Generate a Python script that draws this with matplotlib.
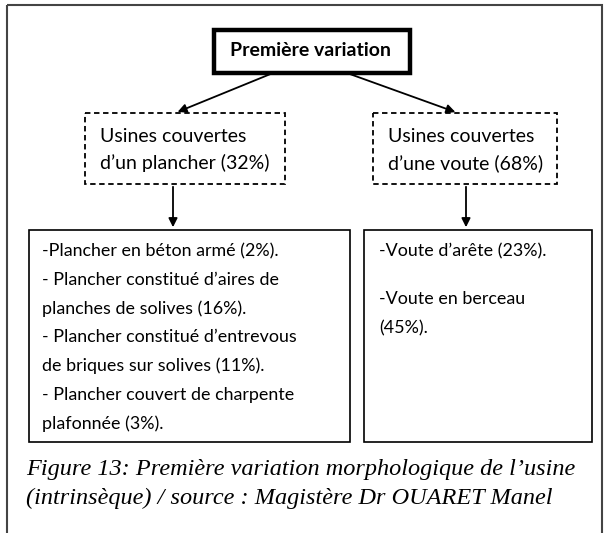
import matplotlib.pyplot as plt
from matplotlib.patches import Rectangle, FancyArrowPatch

titre = "Première variation"
branches = ["Usines couvertes\nd’un plancher (32%)", "Usines couvertes\nd’une voute (68%)"]
details_plancher = [
    "-Plancher en béton armé (2%).",
    "- Plancher constitué d’aires de",
    "planches de solives (16%).",
    "- Plancher constitué d’entrevous",
    "de briques sur solives (11%).",
    "- Plancher couvert de charpente",
    "plafonnée (3%).",
]
details_voute = ["-Voute d’arête (23%).", "-Voute en berceau", "(45%)."]
legende = ["Figure 13: Première variation morphologique de l’usine",
           "(intrinsèque) / source : Magistère Dr OUARET Manel"]

sans = "Lato"

fig = plt.figure(figsize=(6.05, 5.33), dpi=100)
ax = fig.add_axes([0, 0, 1, 1])
ax.set_xlim(0, 605)
ax.set_ylim(533, 0)
ax.axis("off")

# cadre extérieur
ax.add_patch(Rectangle((7, 5), 595, 540, fill=False, ec="#444444", lw=1.5))

# titre
ax.add_patch(Rectangle((214, 30), 196, 43, fill=False, ec="black", lw=3.2))
ax.text(311, 51, titre, ha="center", va="center", fontsize=14, fontweight="bold", family=sans)

# flèches vers les branches
arrow_kw = dict(arrowstyle="-|>", mutation_scale=13, color="black", lw=1.3)
ax.add_patch(FancyArrowPatch((273, 73), (175, 113), **arrow_kw))
ax.add_patch(FancyArrowPatch((347, 73), (458, 113), **arrow_kw))

# boîtes en pointillés
boites = [(85, 113, 200, 71), (373, 113, 184, 71)]
for (x, y, w, h), txt in zip(boites, branches):
    ax.add_patch(Rectangle((x, y), w, h, fill=False, ec="black", lw=1.3, ls=(0, (3, 2))))
    ax.text(x + 15, y + 37, txt, ha="left", va="center", fontsize=14, family=sans,
            linespacing=1.6)

# flèches verticales
ax.add_patch(FancyArrowPatch((173, 184), (173, 230), **arrow_kw))
ax.add_patch(FancyArrowPatch((466, 184), (466, 230), **arrow_kw))

# boîtes détails
ax.add_patch(Rectangle((29, 230), 321, 212, fill=False, ec="black", lw=1.2))
ax.add_patch(Rectangle((364, 230), 228, 212, fill=False, ec="black", lw=1.2))
for i, ligne in enumerate(details_plancher):
    ax.text(42, 251 + i * 28.8, ligne, ha="left", va="center", fontsize=12.9, family=sans)
for dy, ligne in zip([0, 48, 77], details_voute):
    ax.text(379, 251 + dy, ligne, ha="left", va="center", fontsize=12.9, family=sans)

# légende
for i, ligne in enumerate(legende):
    ax.text(26, 470 + i * 28, ligne, ha="left", va="center", fontsize=17.5,
            family="Liberation Serif", style="italic")

fig.savefig("out.png", dpi=100)
